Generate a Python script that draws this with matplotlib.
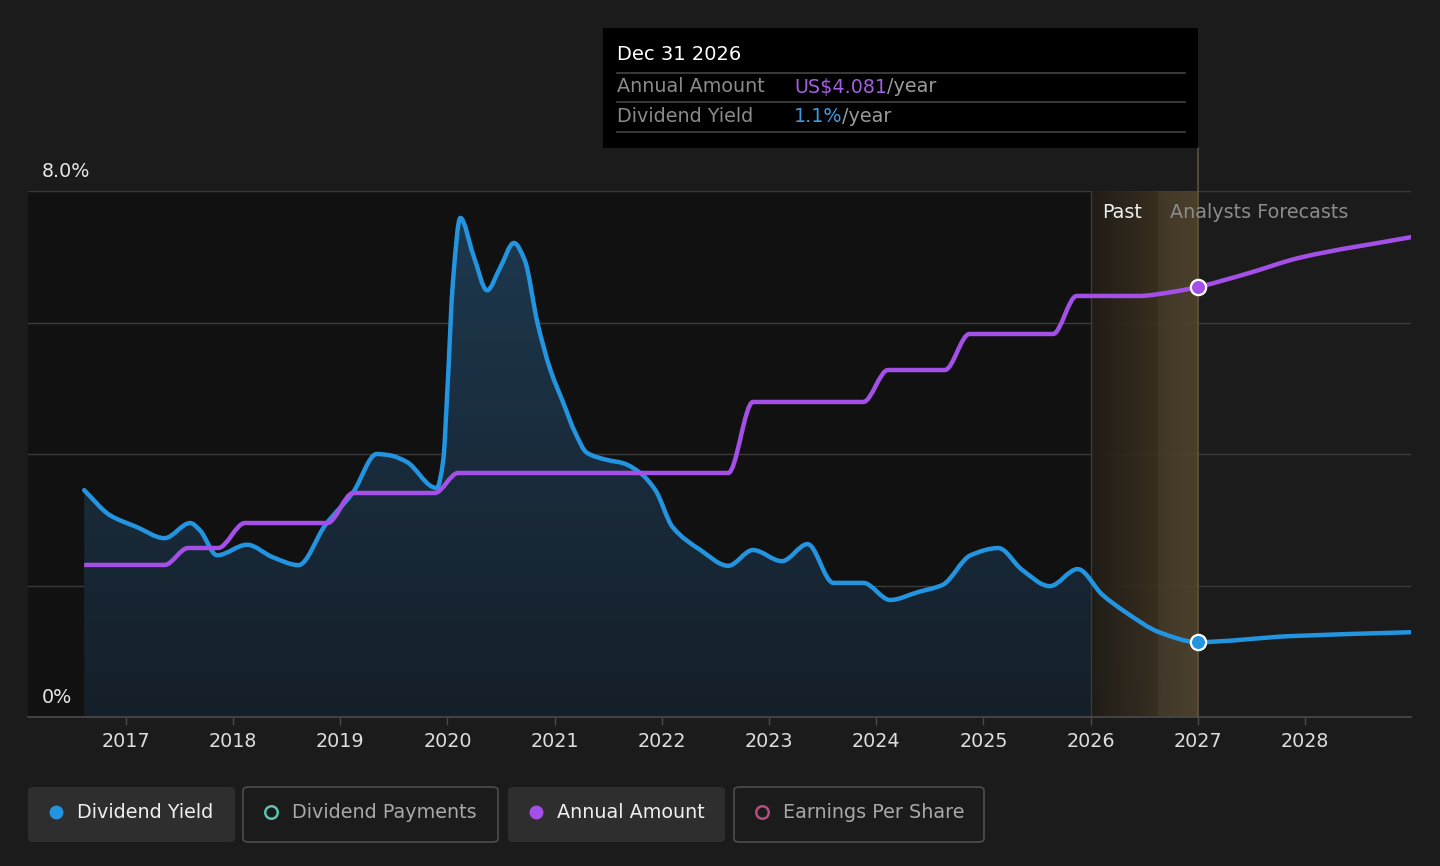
import numpy as np
import matplotlib.pyplot as plt
from matplotlib.patches import Rectangle, FancyBboxPatch, PathPatch
from matplotlib.path import Path
from matplotlib.lines import Line2D

# Dividend yield (%)
yield_x = [2016.61, 2016.85, 2017.10, 2017.36, 2017.60, 2017.69, 2017.85, 2018.13,
           2018.37, 2018.61, 2018.86, 2019.12, 2019.34, 2019.46, 2019.62, 2019.86,
           2019.90, 2019.96, 2020.00, 2020.05, 2020.12, 2020.24, 2020.37, 2020.49,
           2020.62, 2020.72, 2020.84, 2020.96, 2021.08, 2021.19, 2021.30, 2021.49,
           2021.64, 2021.80, 2021.94, 2022.10, 2022.36, 2022.62, 2022.85, 2023.12,
           2023.36, 2023.60, 2023.88, 2024.13, 2024.39, 2024.62, 2024.88, 2025.14,
           2025.36, 2025.62, 2025.88, 2026.11, 2026.34, 2026.64, 2027.00, 2027.86,
           2029.00]
yield_pct = [3.45, 3.07, 2.89, 2.72, 2.95, 2.84, 2.46, 2.62,
             2.43, 2.31, 2.92, 3.42, 4.00, 3.98, 3.88, 3.50,
             3.48, 3.90, 5.00, 6.60, 7.59, 7.03, 6.49, 6.83,
             7.21, 6.95, 5.99, 5.28, 4.78, 4.33, 4.02, 3.91,
             3.86, 3.71, 3.45, 2.89, 2.54, 2.30, 2.54, 2.37,
             2.63, 2.04, 2.04, 1.78, 1.90, 2.01, 2.46, 2.57,
             2.24, 1.99, 2.25, 1.86, 1.58, 1.29, 1.14, 1.23,
             1.29]

# Annual dividend amount (US$)
amount_x = [2016.61, 2017.36, 2017.58, 2017.86, 2018.11, 2018.88, 2019.12, 2019.88,
            2020.10, 2022.62, 2022.85, 2023.88, 2024.11, 2024.64, 2024.87, 2025.65,
            2025.87, 2026.45, 2026.74, 2027.00, 2027.48, 2027.94, 2029.00]
amount_usd = [1.443, 1.443, 1.604, 1.604, 1.841, 1.841, 2.126, 2.126,
              2.316, 2.316, 2.990, 2.990, 3.293, 3.293, 3.635, 3.635,
              3.996, 3.996, 4.030, 4.081, 4.214, 4.356, 4.556]

years = list(range(2017, 2029))
legend_labels = ["Dividend Yield", "Dividend Payments", "Annual Amount", "Earnings Per Share"]

BG = "#1b1b1b"
PAST_BG = "#111111"
BLUE = "#2394df"
PURPLE = "#a450e8"
FS = 13.8

W, H = 1440, 866


def fx(px):
    return px / W


def fy(py):
    return 1 - py / H


def smooth_path(xs, ys):
    # monotone cubic (Fritsch-Carlson) bezier through the read points
    x = np.asarray(xs, float)
    y = np.asarray(ys, float)
    h = np.diff(x)
    d = np.diff(y) / h
    m = np.zeros_like(x)
    m[0], m[-1] = d[0], d[-1]
    for i in range(1, len(x) - 1):
        if d[i - 1] * d[i] <= 0:
            m[i] = 0
        else:
            w1 = 2 * h[i] + h[i - 1]
            w2 = h[i] + 2 * h[i - 1]
            m[i] = (w1 + w2) / (w1 / d[i - 1] + w2 / d[i])
    verts = [(x[0], y[0])]
    codes = [Path.MOVETO]
    for i in range(len(x) - 1):
        verts += [(x[i] + h[i] / 3, y[i] + m[i] * h[i] / 3),
                  (x[i + 1] - h[i] / 3, y[i + 1] - m[i + 1] * h[i] / 3),
                  (x[i + 1], y[i + 1])]
        codes += [Path.CURVE4] * 3
    return verts, codes


fig = plt.figure(figsize=(14.4, 8.66), dpi=100, facecolor=BG)
ax = fig.add_axes([fx(28), fy(717), (1411 - 28) / W, (717 - 191) / H])
ax.set_facecolor(BG)
x0, x1 = 2016.086, 2028.99

# past area background
ax.axvspan(x0, 2026, color=PAST_BG, zorder=0, lw=0)

# gridlines
for g in [2, 4, 6, 8]:
    ax.axhline(g, color="#3a3a3a", lw=1, zorder=0.5)

# fill under yield with vertical gradient, up to 2027
k = yield_x.index(2027.00)
fv, fc = smooth_path(yield_x[:k + 1], yield_pct[:k + 1])
fv = fv + [(yield_x[k], 0), (yield_x[0], 0), (yield_x[0], yield_pct[0])]
fc = fc + [Path.LINETO, Path.LINETO, Path.CLOSEPOLY]
fill_path = Path(fv, fc)
grad = np.linspace(0, 1, 256)[:, None]
top = np.array([0x1d, 0x38, 0x4e]) / 255
bot = np.array([0x15, 0x1f, 0x29]) / 255
img = bot + (top - bot) * grad[..., None]
img = np.repeat(img, 2, axis=1)
im = ax.imshow(img, extent=[yield_x[0], 2027.0, 0, 7.6], origin="lower",
               aspect="auto", zorder=1)
im.set_clip_path(fill_path, transform=ax.transData)

# past/forecast band
band = np.zeros((1, 200, 4))
c_left = np.array([0x21, 0x1c, 0x15]) / 255
c_mid = np.array([0x3c, 0x31, 0x21]) / 255
c_r0 = np.array([0x46, 0x3b, 0x29]) / 255
c_r1 = np.array([0x52, 0x45, 0x2e]) / 255
for i in range(200):
    t = i / 199
    if t < 0.62:
        c = c_left + (c_mid - c_left) * (t / 0.62)
    else:
        c = c_r0 + (c_r1 - c_r0) * ((t - 0.62) / 0.38)
    band[0, i, :3] = c
    band[0, i, 3] = 0.9
ax.imshow(band, extent=[2026, 2027, 0, 8], aspect="auto", zorder=2)
ax.axvline(2026, color="#3d3a35", lw=1, zorder=2)
ax.set_xlim(x0, x1)
ax.set_ylim(0, 8)

# lines
ax2 = ax.twinx()
ax2.set_xlim(x0, x1)
ax2.set_ylim(0, 4.081 * 526 / 430)
ax2.axis("off")
yv, yc = smooth_path(yield_x, yield_pct)
ax.add_patch(PathPatch(Path(yv, yc), fill=False, edgecolor=BLUE, lw=3.2, zorder=4,
                       joinstyle="round", capstyle="round"))
av, ac = smooth_path(amount_x, amount_usd)
ax2.add_patch(PathPatch(Path(av, ac), fill=False, edgecolor=PURPLE, lw=3.2, zorder=4,
                        joinstyle="round", capstyle="butt"))

# tooltip line
ax.plot([2027, 2027], [0, 8 * (717 - 148) / 526], color="#5e513a", lw=1.2,
        clip_on=False, zorder=3)

# markers at current point
j = amount_x.index(2027.00)
ax.plot([yield_x[k]], [yield_pct[k]], "o", ms=11, mfc=BLUE, mec="white", mew=1.6, zorder=6)
ax2.plot([amount_x[j]], [amount_usd[j]], "o", ms=11, mfc=PURPLE, mec="white", mew=1.6, zorder=6)

# axes styling
for s in ["top", "right", "left"]:
    ax.spines[s].set_visible(False)
ax.spines["bottom"].set_color("#4a4a4a")
ax.spines["bottom"].set_linewidth(1.2)
ax.set_yticks([])
ax.set_xticks(years)
ax.set_xticklabels([str(y) for y in years])
ax.tick_params(axis="x", colors="#4a4a4a", length=6, width=1, pad=5,
               labelsize=FS, labelcolor="#dddddd")

ax.annotate("8.0%", xy=(2016.216, 8), xytext=(0, 7), textcoords="offset points",
            ha="left", va="bottom", color="#e6e6e6", fontsize=FS)
ax.annotate("0%", xy=(2016.216, 0), xytext=(0, 7), textcoords="offset points",
            ha="left", va="bottom", color="#e6e6e6", fontsize=FS)

ax.text(2026.48, 7.68, "Past", ha="right", va="center", color="#eeeeee", fontsize=FS, zorder=5)
ax.text(2026.74, 7.68, "Analysts Forecasts", ha="left", va="center", color="#8c8c8c",
        fontsize=FS, zorder=5)

# tooltip box
fig.patches.append(Rectangle((fx(603), fy(148)), (1198 - 603) / W, (148 - 28) / H,
                             transform=fig.transFigure, facecolor="black", edgecolor="none"))
for ly in [73, 102, 132]:
    fig.lines.append(Line2D([fx(617), fx(1185)], [fy(ly), fy(ly)], transform=fig.transFigure,
                            color="#444444", lw=1.2))
fig.text(fx(617), fy(55), "Dec 31 2026", color="white", fontsize=14, va="center")
fig.text(fx(617), fy(87), "Annual Amount", color="#8a8a8a", fontsize=FS, va="center")
fig.text(fx(617), fy(116), "Dividend Yield", color="#8a8a8a", fontsize=FS, va="center")
t1 = fig.text(fx(794), fy(87), "US$4.081", color="#a45ee0", fontsize=FS, va="center")
t2 = fig.text(fx(794), fy(116), "1.1%", color="#3a9be0", fontsize=FS, va="center")
for t in [t1, t2]:
    fig.add_artist(plt.Annotation("/year", xy=(1, 0.5), xycoords=t, va="center", ha="left",
                                  color="#9a9a9a", fontsize=FS))

# legend buttons
buttons = [(28, 235, True, BLUE, True), (243, 498, False, "#5cc2b0", False),
           (508, 725, True, PURPLE, True), (734, 984, False, "#b0507e", False)]
for (bx0, bx1, filled, col, solid), lab in zip(buttons, legend_labels):
    fig.patches.append(FancyBboxPatch((fx(bx0), fy(842)), (bx1 - bx0) / W, (842 - 787) / H,
                                      boxstyle="round,pad=0,rounding_size=0.004",
                                      transform=fig.transFigure,
                                      facecolor="#2e2e2e" if filled else BG,
                                      edgecolor="none" if filled else "#4d4d4d", lw=1.2))
    fig.lines.append(Line2D([fx(bx0 + 28)], [fy(812)], transform=fig.transFigure, marker="o",
                            ms=10 if solid else 9, mfc=col if solid else "none", mec=col,
                            mew=0 if solid else 1.8))
    fig.text(fx(bx0 + 49), fy(812), lab, color="#eeeeee" if filled else "#a8a8a8",
             fontsize=FS, va="center", ha="left")

fig.savefig("out.png", dpi=100, facecolor=BG)
